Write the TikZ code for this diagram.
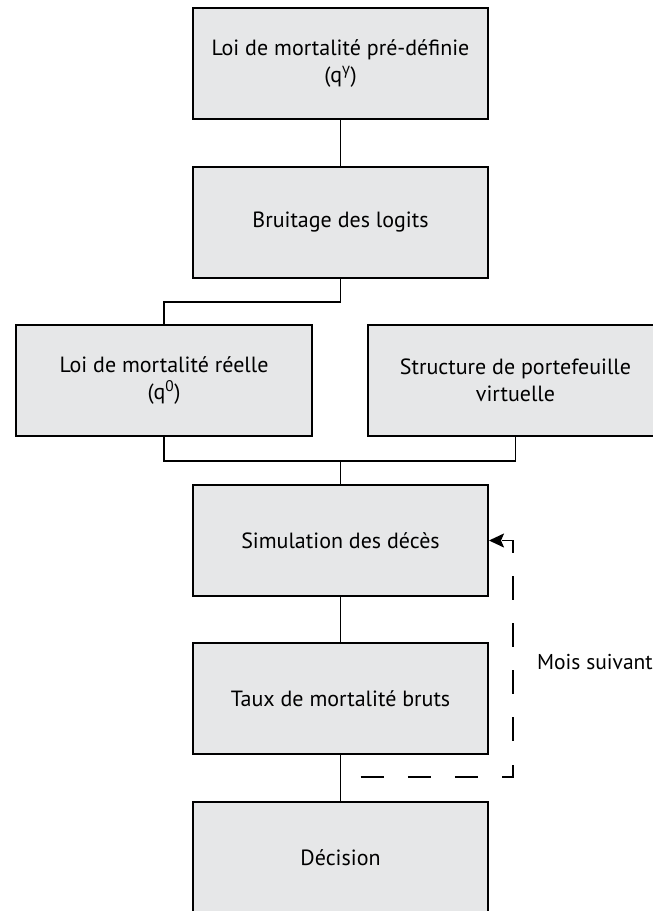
\documentclass[tikz,border=0pt]{standalone}
\usepackage{fontspec}
\setmainfont{PT Sans}
\newfontfamily\greekfont{Open Sans}
\usetikzlibrary{arrows.meta}
\definecolor{boxgray}{HTML}{E6E7E8}
\begin{document}
\begin{tikzpicture}[x=1pt,y=-1pt,
  box/.style={draw=black, line width=2pt, fill=boxgray, minimum width=295pt,
    minimum height=111pt, align=center, inner sep=0pt,
    font=\fontsize{22}{27}\selectfont},
  conn/.style={line width=1.8pt},
  loopline/.style={line width=1.8pt, dash pattern=on 23.5pt off 23.6pt, dash phase=26.9pt},
  lbl/.style={font=\fontsize{21.5}{24}\selectfont, inner sep=0pt, anchor=west}
]
\useasboundingbox (0,0) rectangle (653,911);
\node[box] (b1) at (340.5,63.5) {Loi de mortalité pré-définie\\(q\textsuperscript{\greekfont γ})};
\node[box] (b2) at (340.5,222.5) {Bruitage des logits};
\node[box, minimum width=296pt] (b3) at (164,380.5) {Loi de mortalité réelle\\(q\textsuperscript{0})};
\node[box] (b4) at (515.5,380.5) {Structure de portefeuille\\virtuelle};
\node[box] (b5) at (340.5,540.5) {Simulation des décès};
\node[box] (b6) at (340.5,698.5) {Taux de mortalité bruts};
\node[box] (b7) at (340.5,857.5) {Décision};
\coordinate (e1) at (340.5,302);
\coordinate (j) at (340.5,461);
\coordinate (d) at (340.5,777);
\coordinate (lp) at (513,540.5);
\node[lbl] (ms) at (537,662) {Mois suivant};
\draw[conn] (b1.south) -- (b2.north);
\draw[conn] (b2.south) -- (e1) -| (b3.north);
\draw[conn] (b3.south) |- (j) -| (b4.south);
\draw[conn] (j) -- (b5.north);
\draw[conn] (b5.south) -- (b6.north);
\draw[conn] (b6.south) -- (b7.north);
\draw[loopline, -{Stealth[length=15pt,width=14pt,inset=3pt]}] (d) -| (lp) -- (b5.east);
\end{tikzpicture}
\end{document}
